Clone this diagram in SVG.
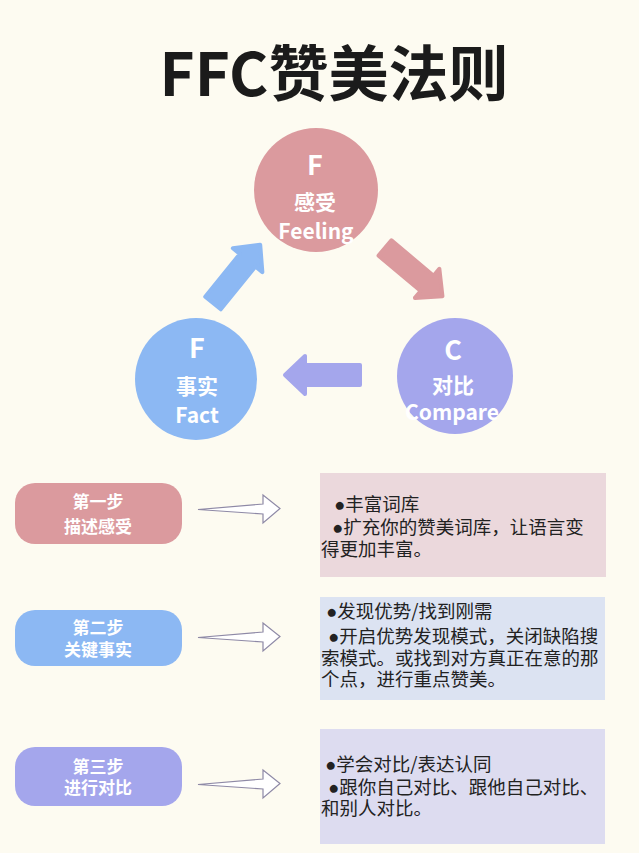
<svg xmlns="http://www.w3.org/2000/svg" width="639" height="853" viewBox="0 0 639 853">
<style>
.bg{fill:#fdfbf1}
.title{font-family:"Noto Sans CJK SC","Noto Sans",sans-serif;font-weight:700;font-size:60px;fill:#1b1b1b;text-anchor:middle}
.ct{font-family:"Noto Sans CJK SC","Noto Sans",sans-serif;font-weight:700;fill:#ffffff;text-anchor:middle}
.big{font-size:27px}
.mid{font-size:21px}
.pt{font-family:"Noto Sans CJK SC",sans-serif;font-weight:700;font-size:17px;fill:#ffffff;text-anchor:middle}
.bt{font-family:"Noto Sans CJK SC",sans-serif;font-size:18.5px;fill:#222222}
.dot{font-family:"Liberation Sans",sans-serif}
.oa{fill:#ffffff;stroke:#8e89a6;stroke-width:1.2;stroke-linejoin:miter}
.ba{stroke-width:4;stroke-linejoin:round}
</style>
<defs>
<path id="blk" d="M0,-10 L55,-10 L55,-19 L75,0 L55,19 L55,10 L0,10 Z"/>
<path id="ol" d="M0,0.5 L65,-5 L65,-14 L82,-0.5 L65,14 L65,5 Z"/>
</defs>
<rect class="bg" x="0" y="0" width="639" height="853"/>
<text class="title" x="334" y="96">FFC赞美法则</text>

<g id="connectors">
<use href="#blk" class="ba" fill="#8cb8f3" stroke="#8cb8f3" transform="translate(213,303) rotate(-51)"/>
<use href="#blk" class="ba" fill="#db9a9e" stroke="#db9a9e" transform="translate(385,248) rotate(40)"/>
<use href="#blk" class="ba" fill="#a4a6ec" stroke="#a4a6ec" transform="translate(360,375) rotate(180)"/>
<use href="#ol" class="oa" transform="translate(198,509)"/>
<use href="#ol" class="oa" transform="translate(198,637)"/>
<use href="#ol" class="oa" transform="translate(198,784)"/>
</g>

<g id="node-feeling">
<circle cx="316" cy="190" r="62" fill="#db9a9e"/>
<text class="ct big" x="315" y="175">F</text>
<text class="ct mid" x="315" y="210">感受</text>
<text class="ct mid" x="316" y="239">Feeling</text>
</g>
<g id="node-fact">
<circle cx="196" cy="379" r="61" fill="#8cb8f3"/>
<text class="ct big" x="197" y="358">F</text>
<text class="ct mid" x="197" y="394">事实</text>
<text class="ct mid" x="197" y="423">Fact</text>
</g>
<g id="node-compare">
<circle cx="455" cy="376" r="58" fill="#a4a6ec"/>
<text class="ct big" x="453" y="360">C</text>
<text class="ct mid" x="453" y="393">对比</text>
<text class="ct mid" x="452" y="420">Compare</text>
</g>

<g id="step1">
<rect x="15" y="483" width="167" height="61" rx="20" fill="#db9a9e"/>
<text class="pt" x="98" y="508">第一步</text>
<text class="pt" x="98" y="533">描述感受</text>
</g>
<g id="box1">
<rect x="320" y="473" width="286" height="104" fill="#ebd8dc"/>
<text class="bt" x="334" y="511"><tspan class="dot">●</tspan>丰富词库</text>
<text class="bt" x="332" y="534"><tspan class="dot">●</tspan>扩充你的赞美词库，让语言变</text>
<text class="bt" x="321" y="556">得更加丰富。</text>
</g>

<g id="step2">
<rect x="15" y="610" width="167" height="56" rx="20" fill="#8cb8f3"/>
<text class="pt" x="98" y="634">第二步</text>
<text class="pt" x="98" y="656">关键事实</text>
</g>
<g id="box2">
<rect x="320" y="597" width="285" height="103" fill="#dce3f2"/>
<text class="bt" x="326" y="618"><tspan class="dot">●</tspan>发现优势/找到刚需</text>
<text class="bt" x="328" y="643"><tspan class="dot">●</tspan>开启优势发现模式，关闭缺陷搜</text>
<text class="bt" x="321" y="665">索模式。或找到对方真正在意的那</text>
<text class="bt" x="321" y="686">个点，进行重点赞美。</text>
</g>

<g id="step3">
<rect x="15" y="747" width="167" height="59" rx="20" fill="#a4a6ec"/>
<text class="pt" x="98" y="773">第三步</text>
<text class="pt" x="98" y="794">进行对比</text>
</g>
<g id="box3">
<rect x="320" y="729" width="285" height="115" fill="#dddcf0"/>
<text class="bt" x="325" y="771"><tspan class="dot">●</tspan>学会对比/表达认同</text>
<text class="bt" x="328" y="794"><tspan class="dot">●</tspan>跟你自己对比、跟他自己对比、</text>
<text class="bt" x="321" y="815">和别人对比。</text>
</g>
</svg>
